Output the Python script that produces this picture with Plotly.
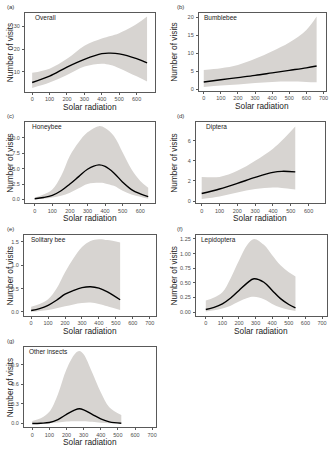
import plotly.graph_objects as go

# ---- data ----
names = ["Overall", "Bumblebee", "Honeybee", "Diptera", "Solitary bee", "Lepidoptera", "Other insects"]
letters = ["(a)", "(b)", "(c)", "(d)", "(e)", "(f)", "(g)"]

a_x = [0, 100, 200, 300, 400, 450, 500, 600, 660]
a_mean = [5.3, 8.1, 12.1, 15.5, 18.0, 18.2, 17.9, 15.8, 13.9]
a_up = [9.6, 11.4, 15.7, 21.5, 24.7, 25.8, 27.0, 31.0, 34.3]
a_lo = [2.9, 5.3, 8.6, 12.3, 13.6, 13.0, 11.6, 8.0, 5.7]

b_x = [0, 100, 200, 300, 400, 500, 600, 660]
b_mean = [2.1, 2.7, 3.3, 3.9, 4.6, 5.3, 6.0, 6.5]
b_up = [5.4, 5.9, 6.8, 8.5, 10.6, 13.0, 16.5, 20.2]
b_lo = [0.7, 1.1, 1.4, 1.8, 2.1, 2.2, 2.1, 2.0]

c_x = [0, 50, 100, 150, 200, 250, 300, 365, 400, 450, 500, 550, 600, 645]
c_mean = [0.1, 0.3, 0.65, 1.4, 2.5, 3.7, 4.9, 5.6, 5.35, 4.3, 2.8, 1.6, 0.9, 0.45]
c_up = [0.3, 0.8, 1.6, 3.8, 7.1, 9.3, 10.9, 11.9, 11.6, 10.3, 7.6, 4.9, 3.0, 1.9]
c_lo = [0.0, 0.1, 0.3, 0.6, 1.1, 1.8, 2.5, 2.7, 2.6, 2.2, 1.4, 0.8, 0.45, 0.1]

d_x = [0, 100, 200, 300, 400, 450, 525]
d_mean = [0.75, 1.2, 1.75, 2.35, 2.85, 2.95, 2.9]
d_up = [2.4, 2.4, 3.0, 4.0, 5.2, 6.0, 7.4]
d_lo = [0.2, 0.45, 0.85, 1.2, 1.35, 1.3, 1.15]

e_x = [0, 50, 100, 150, 200, 250, 300, 350, 400, 450, 525]
e_mean = [0.03, 0.07, 0.14, 0.25, 0.38, 0.46, 0.52, 0.54, 0.51, 0.43, 0.26]
e_up = [0.11, 0.17, 0.27, 0.5, 0.85, 1.15, 1.39, 1.52, 1.56, 1.54, 1.49]
e_lo = [0.0, 0.02, 0.04, 0.08, 0.12, 0.16, 0.19, 0.2, 0.17, 0.12, 0.04]

f_x = [0, 50, 100, 150, 200, 250, 290, 350, 400, 450, 500, 540]
f_mean = [0.045, 0.08, 0.14, 0.24, 0.37, 0.5, 0.57, 0.51, 0.37, 0.23, 0.13, 0.07]
f_up = [0.2, 0.25, 0.34, 0.58, 0.88, 1.15, 1.25, 1.15, 0.97, 0.8, 0.68, 0.61]
f_lo = [0.01, 0.03, 0.06, 0.11, 0.18, 0.24, 0.26, 0.22, 0.14, 0.08, 0.04, 0.02]

g_x = [0, 50, 100, 150, 200, 250, 275, 300, 350, 400, 450, 520]
g_mean = [0.0, 0.005, 0.015, 0.06, 0.14, 0.21, 0.225, 0.21, 0.14, 0.07, 0.025, 0.005]
g_up = [0.04, 0.08, 0.18, 0.45, 0.83, 1.07, 1.11, 1.06, 0.78, 0.48, 0.25, 0.13]
g_lo = [0.0, 0.0, 0.005, 0.015, 0.03, 0.035, 0.035, 0.035, 0.025, 0.01, 0.003, 0.0]

x_ticks_600 = [0, 100, 200, 300, 400, 500, 600]
x_ticks_700 = [0, 100, 200, 300, 400, 500, 600, 700]
a_yticks = [10, 20, 30]
b_yticks = [0, 5, 10, 15, 20]
c_yticks = [0.0, 2.5, 5.0, 7.5, 10.0]
d_yticks = [0, 2, 4, 6]
e_yticks = [0.0, 0.5, 1.0, 1.5]
f_yticks = [0.00, 0.25, 0.50, 0.75, 1.00, 1.25]
g_yticks = [0.0, 0.3, 0.6, 0.9]

# layout: box = (left, right, top, bottom) in px; col = 0 left / 1 right; ti = inner-title x offset
panels = [
    dict(x=a_x, m=a_mean, u=a_up, l=a_lo, xt=x_ticks_600, yt=a_yticks, yfmt="d",
         xr=[-42, 706], yr=[1.3, 35.9], box=(25, 156, 13, 92), col=0, ti=8),
    dict(x=b_x, m=b_mean, u=b_up, l=b_lo, xt=x_ticks_700, yt=b_yticks, yfmt="d",
         xr=[-29, 715], yr=[-0.3, 21.2], box=(200, 328, 13, 91), col=1, ti=3),
    dict(x=c_x, m=c_mean, u=c_up, l=c_lo, xt=x_ticks_600, yt=c_yticks, yfmt=".1f",
         xr=[-56, 684], yr=[-0.6, 12.5], box=(25, 156, 123, 204), col=0, ti=5.5),
    dict(x=d_x, m=d_mean, u=d_up, l=d_lo, xt=x_ticks_600, yt=d_yticks, yfmt="d",
         xr=[-33, 692], yr=[-0.2, 7.8], box=(197, 327, 123, 204), col=1, ti=8.5),
    dict(x=e_x, m=e_mean, u=e_up, l=e_lo, xt=x_ticks_700, yt=e_yticks, yfmt=".1f",
         xr=[-43, 734], yr=[-0.08, 1.64], box=(24, 156.5, 236.5, 317), col=0, ti=5),
    dict(x=f_x, m=f_mean, u=f_up, l=f_lo, xt=x_ticks_700, yt=f_yticks, yfmt=".2f",
         xr=[-60, 730], yr=[-0.06, 1.31], box=(197, 329, 236.5, 317), col=1, ti=3.5),
    dict(x=g_x, m=g_mean, u=g_up, l=g_lo, xt=x_ticks_700, yt=g_yticks, yfmt=".1f",
         xr=[-49, 720], yr=[-0.055, 1.165], box=(24, 156.5, 349, 429), col=0, ti=3),
]

W, H = 333, 450
FONT = "Liberation Sans, Arial, sans-serif"
GREY = "#4d4d4d"
BAND = "#d7d4d1"
LETTER_X = [5, 176]
YTITLE_X = [10, 175]

fig = go.Figure()
layout = dict(width=W, height=H, margin=dict(l=0, r=0, t=0, b=0),
              paper_bgcolor="white", plot_bgcolor="white", showlegend=False,
              font=dict(family=FONT, color=GREY))
annotations = []

for i, p in enumerate(panels):
    n = i + 1
    xa = "x" if n == 1 else f"x{n}"
    ya = "y" if n == 1 else f"y{n}"
    l, r, t, b = p["box"]
    c = p["col"]
    fig.add_trace(go.Scatter(x=p["x"], y=p["l"], mode="lines", line=dict(width=0, shape="spline"),
                             xaxis=xa, yaxis=ya, hoverinfo="skip"))
    fig.add_trace(go.Scatter(x=p["x"], y=p["u"], mode="lines", line=dict(width=0, shape="spline"),
                             fill="tonexty", fillcolor=BAND, xaxis=xa, yaxis=ya, hoverinfo="skip"))
    fig.add_trace(go.Scatter(x=p["x"], y=p["m"], mode="lines",
                             line=dict(color="black", width=1.4, shape="spline"),
                             xaxis=xa, yaxis=ya))
    common = dict(showgrid=False, zeroline=False, showline=True, mirror=True, linecolor="#595959",
                  linewidth=0.9, ticks="outside", ticklen=2, tickwidth=0.8, tickcolor="#595959",
                  tickfont=dict(size=5.5, color=GREY, family=FONT))
    layout["xaxis" if n == 1 else f"xaxis{n}"] = dict(
        common, domain=[l / W, r / W], range=p["xr"], tickvals=p["xt"],
        anchor=ya, ticklabelstandoff=0)
    layout["yaxis" if n == 1 else f"yaxis{n}"] = dict(
        common, domain=[1 - b / H, 1 - t / H], range=p["yr"], tickvals=p["yt"],
        tickformat=p["yfmt"], anchor=xa, ticklabelstandoff=1)
    # panel letter
    annotations.append(dict(text=letters[i], x=LETTER_X[c] / W, y=1 - (t - 6) / H,
                            xref="paper", yref="paper", xanchor="left", yanchor="middle",
                            showarrow=False, font=dict(size=6, color="#333333", family=FONT)))
    # inner title
    annotations.append(dict(text=names[i], x=(l + p["ti"]) / W, y=1 - (t + 4.5) / H,
                            xref="paper", yref="paper", xanchor="left", yanchor="middle",
                            showarrow=False, font=dict(size=6.5, color="#222222", family=FONT)))
    # axis titles
    annotations.append(dict(text="Solar radiation", x=(l + r) / 2 / W, y=1 - (b + 15) / H,
                            xref="paper", yref="paper", xanchor="center", yanchor="middle",
                            showarrow=False, font=dict(size=8.3, color="#222222", family=FONT)))
    annotations.append(dict(text="Number of visits", x=YTITLE_X[c] / W, y=1 - (t + b) / 2 / H,
                            xref="paper", yref="paper", xanchor="center", yanchor="middle",
                            textangle=-90, showarrow=False,
                            font=dict(size=8.3, color="#222222", family=FONT)))

layout["annotations"] = annotations
fig.update_layout(**layout)
fig.write_html("out.html")
